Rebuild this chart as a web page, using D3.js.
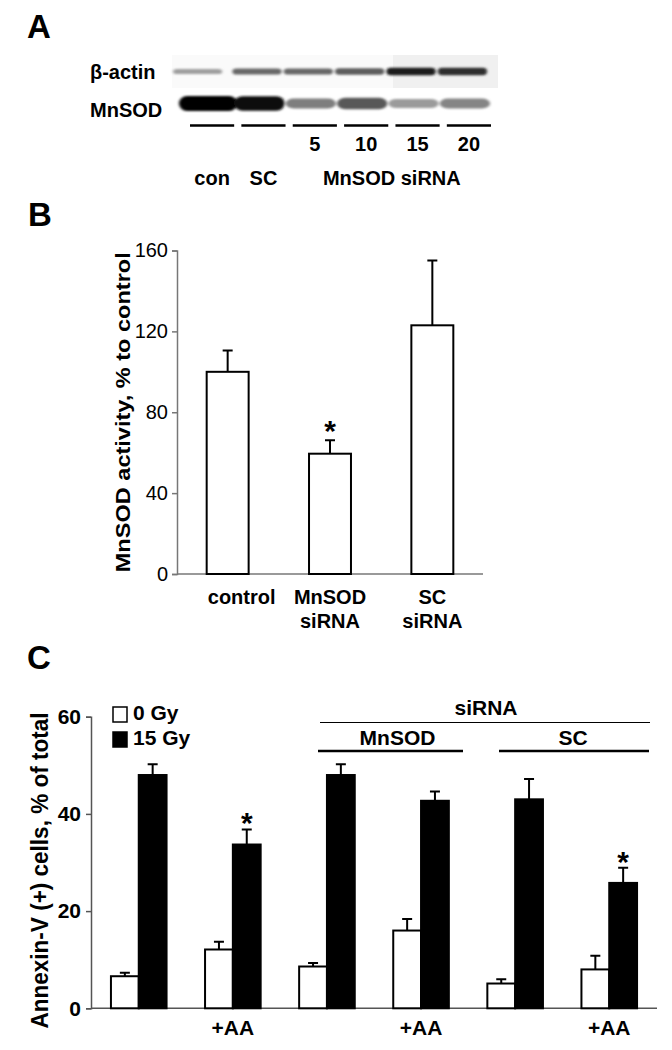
<!DOCTYPE html>
<html><head><meta charset="utf-8">
<script src="https://cdn.jsdelivr.net/npm/d3@7"></script>
<style>body{margin:0;background:#fff}svg{display:block}text{font-family:"Liberation Sans",Arial,sans-serif}</style>
</head><body>
<script>
// ---------- Panel A (western blot) ----------
const lanes = ["con", "SC", "5", "10", "15", "20"];
const laneDoses = ["", "", "5", "10", "15", "20"];
const actinIntensity = [0.3, 0.55, 0.55, 0.6, 0.88, 0.82];
const mnsodIntensity = [1.0, 0.95, 0.45, 0.62, 0.32, 0.42];
const laneGroups = [{label: "con", from: "con", to: "con"}, {label: "SC", from: "SC", to: "SC"}, {label: "MnSOD siRNA", from: "5", to: "20"}];

// ---------- Panel B ----------
const bCategories = [["control"], ["MnSOD", "siRNA"], ["SC", "siRNA"]];
const bValues = [100, 59.5, 123];
const bErrors = [10.6, 6.7, 32];
const bStars = [false, true, false];
const bTicks = [0, 40, 80, 120, 160];

// ---------- Panel C ----------
const cGroups = ["g1", "g2", "g3", "g4", "g5", "g6"];
const cGroupLabels = ["", "+AA", "", "+AA", "", "+AA"];
const cSeries = ["0 Gy", "15 Gy"];
const c0Gy = [6.6, 12.1, 8.6, 16.0, 5.1, 8.0];
const c0GyErr = [0.7, 1.6, 0.7, 2.4, 0.9, 2.8];
const c15Gy = [48.0, 33.7, 48.0, 42.7, 43.0, 25.8];
const c15GyErr = [2.2, 3.1, 2.2, 1.9, 4.2, 3.1];
const c15GyStar = [false, true, false, false, false, true];
const cTicks = [0, 20, 40, 60];

const svg = d3.select("body").append("svg").attr("width", 672).attr("height", 1050);
svg.append("rect").attr("width", 672).attr("height", 1050).attr("fill", "#fff");
const defs = svg.append("defs");
defs.append("filter").attr("id", "blur").attr("x", "-20%").attr("y", "-100%").attr("width", "140%").attr("height", "300%")
  .append("feGaussianBlur").attr("stdDeviation", "1.8 1.3");

// ===== Panel A =====
svg.append("text").attr("x", 27).attr("y", 38).attr("font-size", 33).attr("font-weight", "bold").text("A");
const xA = d3.scaleBand().domain(lanes).range([190, 491]).paddingInner(0.14).paddingOuter(0);
// blot background
svg.append("rect").attr("x", 172).attr("y", 55).attr("width", 326).attr("height", 33).attr("fill", "#fafafa");
svg.append("rect").attr("x", 393).attr("y", 55).attr("width", 105).attr("height", 33).attr("fill", "#f0f0f0");
const gray = d3.scaleLinear().domain([0, 1]).range([225, 5]);
const bandsG = svg.append("g").attr("filter", "url(#blur)");
bandsG.selectAll(".actin").data(lanes).join("rect")
  .attr("x", d => xA(d) - 9 + (d === "con" ? -8 : 0))
  .attr("width", xA.bandwidth() + 5 + 0)
  .attr("y", (d, i) => 71.5 - (2 + actinIntensity[i] * 2))
  .attr("height", (d, i) => 2 * (2 + actinIntensity[i] * 2))
  .attr("rx", 4)
  .attr("fill", (d, i) => d3.rgb(gray(actinIntensity[i]), gray(actinIntensity[i]), gray(actinIntensity[i])));
bandsG.selectAll(".mnsod").data(lanes).join("rect")
  .attr("x", d => xA(d) - 7 + (d === "con" ? -4 : 0))
  .attr("width", d => xA.bandwidth() + 6 + (d === "con" ? 8 : 0))
  .attr("y", (d, i) => 103.5 - (3 + mnsodIntensity[i] * 4.5))
  .attr("height", (d, i) => 2 * (3 + mnsodIntensity[i] * 4.5))
  .attr("rx", 8)
  .attr("fill", (d, i) => d3.rgb(gray(mnsodIntensity[i]), gray(mnsodIntensity[i]), gray(mnsodIntensity[i])));
svg.append("text").attr("x", 90).attr("y", 79).attr("font-size", 20).attr("font-weight", "bold").text("β-actin");
svg.append("text").attr("x", 90).attr("y", 117).attr("font-size", 20).attr("font-weight", "bold").text("MnSOD");
svg.selectAll(".laneLine").data(lanes).join("line")
  .attr("x1", d => xA(d)).attr("x2", d => xA(d) + xA.bandwidth())
  .attr("y1", 125.5).attr("y2", 125.5).attr("stroke", "#000").attr("stroke-width", 2.5);
svg.selectAll(".dose").data(lanes).join("text")
  .attr("x", d => xA(d) + xA.bandwidth() / 2).attr("y", 151)
  .attr("text-anchor", "middle").attr("font-size", 20).attr("font-weight", "bold")
  .text((d, i) => laneDoses[i]);
svg.selectAll(".lgroup").data(laneGroups).join("text")
  .attr("x", d => (xA(d.from) + xA(d.to) + xA.bandwidth()) / 2)
  .attr("y", 185).attr("text-anchor", "middle").attr("font-size", 20).attr("font-weight", "bold")
  .text(d => d.label);

// ===== Panel B =====
svg.append("text").attr("x", 28).attr("y", 226).attr("font-size", 33).attr("font-weight", "bold").text("B");
const xB = d3.scaleBand().domain(d3.range(bValues.length)).range([177, 483]).paddingInner(0.59).paddingOuter(0.29);
const yB = d3.scaleLinear().domain([0, 160]).range([574, 250.5]);
const gB = svg.append("g");
const axB = gB.append("g").attr("transform", "translate(177,0)")
  .call(d3.axisLeft(yB).tickValues(bTicks).tickSize(5).tickPadding(4));
axB.select(".domain").attr("stroke", "#777").attr("stroke-width", 1.5);
axB.selectAll(".tick line").attr("stroke", "#777").attr("stroke-width", 1.5);
axB.selectAll(".tick text").attr("font-size", 20).attr("font-family", "Liberation Sans, Arial, sans-serif").attr("fill", "#000");
gB.append("line").attr("x1", 177).attr("x2", 483).attr("y1", yB(0)).attr("y2", yB(0)).attr("stroke", "#777").attr("stroke-width", 1.5);
gB.selectAll(".errB").data(bValues).join("path")
  .attr("d", (d, i) => {
    const cx = xB(i) + xB.bandwidth() / 2, t = yB(d + bErrors[i]);
    return `M${cx},${yB(d)}V${t}M${cx - 5},${t}H${cx + 5}`;
  }).attr("stroke", "#000").attr("stroke-width", 2).attr("fill", "none");
gB.selectAll(".barB").data(bValues).join("rect")
  .attr("x", (d, i) => xB(i)).attr("width", xB.bandwidth())
  .attr("y", d => yB(d)).attr("height", d => yB(0) - yB(d))
  .attr("fill", "#fff").attr("stroke", "#000").attr("stroke-width", 2);
gB.selectAll(".starB").data(d3.range(bValues.length).filter(i => bStars[i])).join("text")
  .attr("x", i => xB(i) + xB.bandwidth() / 2).attr("y", i => yB(bValues[i] + bErrors[i]) + 1)
  .attr("text-anchor", "middle").attr("font-size", 30).attr("font-weight", "bold").text("*");
gB.selectAll(".catB").data(bCategories).join("text")
  .attr("x", (d, i) => xB(i) + xB.bandwidth() / 2 + (i === 0 ? 14 : 0))
  .attr("y", 604).attr("text-anchor", "middle").attr("font-size", 20).attr("font-weight", "bold")
  .each(function (d) {
    d3.select(this).selectAll("tspan").data(d).join("tspan")
      .attr("x", d3.select(this).attr("x")).attr("dy", (t, k) => k === 0 ? 0 : 24).text(t => t);
  });
gB.append("text").attr("transform", `translate(130,${(yB(0) + yB(160)) / 2}) rotate(-90)`)
  .attr("text-anchor", "middle").attr("font-size", 20).attr("font-weight", "bold")
  .attr("textLength", 320).attr("lengthAdjust", "spacingAndGlyphs")
  .text("MnSOD activity, % to control");

// ===== Panel C =====
svg.append("text").attr("x", 27).attr("y", 669).attr("font-size", 33).attr("font-weight", "bold").text("C");
const xC = d3.scaleBand().domain(cGroups).range([91, 657]).paddingInner(0.409).paddingOuter(0.212);
const xCi = d3.scaleBand().domain(cSeries).range([0, xC.bandwidth()]);
const yC = d3.scaleLinear().domain([0, 60]).range([1008.3, 716.7]);
const gC = svg.append("g");
const axC = gC.append("g").attr("transform", "translate(91,0)")
  .call(d3.axisLeft(yC).tickValues(cTicks).tickSize(5).tickPadding(5));
axC.select(".domain").attr("stroke", "#555").attr("stroke-width", 1.5);
axC.selectAll(".tick line").attr("stroke", "#555").attr("stroke-width", 1.5);
axC.selectAll(".tick text").attr("font-size", 21).attr("font-weight", "bold").attr("font-family", "Liberation Sans, Arial, sans-serif").attr("fill", "#000");
gC.append("line").attr("x1", 91).attr("x2", 657).attr("y1", yC(0)).attr("y2", yC(0)).attr("stroke", "#555").attr("stroke-width", 1.5);

const cData = cGroups.flatMap((g, i) => [
  {g, s: "0 Gy", v: c0Gy[i], e: c0GyErr[i], star: false, fill: "#fff"},
  {g, s: "15 Gy", v: c15Gy[i], e: c15GyErr[i], star: c15GyStar[i], fill: "#000"}
]);
gC.selectAll(".errC").data(cData).join("path")
  .attr("d", d => {
    const cx = xC(d.g) + xCi(d.s) + xCi.bandwidth() / 2, t = yC(d.v + d.e);
    return `M${cx},${yC(d.v)}V${t}M${cx - 5},${t}H${cx + 5}`;
  }).attr("stroke", "#000").attr("stroke-width", 2).attr("fill", "none");
gC.selectAll(".barC").data(cData).join("rect")
  .attr("x", d => xC(d.g) + xCi(d.s)).attr("width", xCi.bandwidth())
  .attr("y", d => yC(d.v)).attr("height", d => yC(0) - yC(d.v))
  .attr("fill", d => d.fill).attr("stroke", "#000").attr("stroke-width", 2);
gC.selectAll(".starC").data(cData.filter(d => d.star)).join("text")
  .attr("x", d => xC(d.g) + xCi(d.s) + xCi.bandwidth() / 2).attr("y", d => yC(d.v + d.e) + 4)
  .attr("text-anchor", "middle").attr("font-size", 30).attr("font-weight", "bold").text("*");
gC.selectAll(".glab").data(cGroups).join("text")
  .attr("x", d => xC(d) + xC.bandwidth() / 2).attr("y", 1035)
  .attr("text-anchor", "middle").attr("font-size", 21).attr("font-weight", "bold")
  .text((d, i) => cGroupLabels[i]);
// legend
const leg = gC.selectAll(".leg").data(cSeries).join("g")
  .attr("transform", (d, i) => `translate(112,${706 + i * 25})`);
leg.append("rect").attr("x", 1).attr("y", 1).attr("width", 14).attr("height", 15)
  .attr("fill", (d, i) => i === 0 ? "#fff" : "#000").attr("stroke", "#000").attr("stroke-width", 1.5);
leg.append("text").attr("x", 21).attr("y", 14).attr("font-size", 21).attr("font-weight", "bold").text(d => d);
// siRNA header brackets
gC.append("text").attr("x", 486).attr("y", 715).attr("text-anchor", "middle").attr("font-size", 21).attr("font-weight", "bold").text("siRNA");
gC.append("line").attr("x1", 320).attr("x2", 650).attr("y1", 722.5).attr("y2", 722.5).attr("stroke", "#000").attr("stroke-width", 1.2);
const brackets = [{label: "MnSOD", x1: 318, x2: 463}, {label: "SC", x1: 499, x2: 649}];
gC.selectAll(".brk").data(brackets).join("line")
  .attr("x1", d => d.x1).attr("x2", d => d.x2).attr("y1", 751).attr("y2", 751).attr("stroke", "#000").attr("stroke-width", 2.5);
gC.selectAll(".brkT").data(brackets).join("text")
  .attr("x", d => (d.x1 + d.x2) / 2 + (d.label === "MnSOD" ? 7 : -1)).attr("y", 745)
  .attr("text-anchor", "middle").attr("font-size", 21).attr("font-weight", "bold").text(d => d.label);
gC.append("text").attr("transform", `translate(48,${(yC(0) + yC(60)) / 2 + 8}) rotate(-90)`)
  .attr("text-anchor", "middle").attr("font-size", 23).attr("font-weight", "bold")
  .attr("textLength", 316).attr("lengthAdjust", "spacingAndGlyphs")
  .text("Annexin-V (+) cells, % of total");
</script>
</body></html>
